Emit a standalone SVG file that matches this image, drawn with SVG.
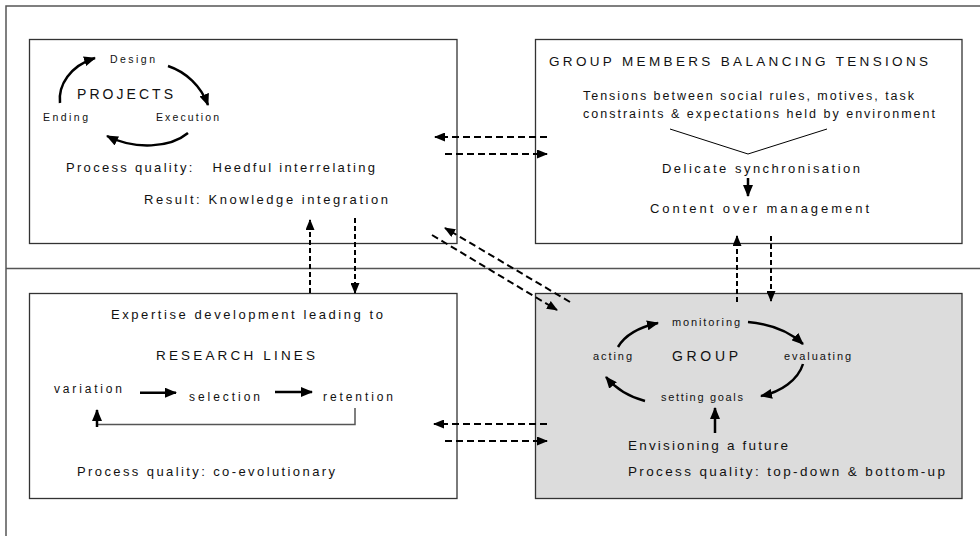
<svg xmlns="http://www.w3.org/2000/svg" width="980" height="536" viewBox="0 0 980 536">
<style>
text{font-family:"Liberation Sans",Arial,sans-serif;fill:#111;}
.frame{stroke:#555;stroke-width:1.5;fill:none;}
.box{stroke:#333;stroke-width:1.3;fill:#fff;}
.gbox{stroke:#333;stroke-width:1.3;fill:#dcdcdc;}
.cyc{stroke:#000;stroke-width:2.5;fill:none;marker-end:url(#ah);}
.dash{stroke:#000;stroke-width:2;fill:none;marker-end:url(#dh);}
.dh{stroke-dasharray:7 4;}
.dv{stroke-dasharray:5 3;}
.thin{stroke:#000;stroke-width:1;fill:none;}
.fb{stroke:#555;stroke-width:1.5;fill:none;}
</style>
<defs>
<marker id="ah" markerUnits="userSpaceOnUse" viewBox="0 0 12 10" markerWidth="12" markerHeight="10" refX="11" refY="5" orient="auto"><path d="M0,0 L12,5 L0,10 z" fill="#000"/></marker>
<marker id="dh" markerUnits="userSpaceOnUse" viewBox="0 0 11 9" markerWidth="11" markerHeight="9" refX="10" refY="4.5" orient="auto"><path d="M0,0 L11,4.5 L0,9 z" fill="#000"/></marker>
</defs>
<g id="frame">
<path class="frame" d="M980,6 L6,6 L6,536"/>
<path class="frame" d="M6,268.5 L980,268.5"/>
</g>
<g id="projects">
<rect class="box" x="29.5" y="39.5" width="427.5" height="204"/>
<text x="110" y="63" font-size="10.5" textLength="45" lengthAdjust="spacing">Design</text>
<text x="77" y="99" font-size="14" textLength="96" lengthAdjust="spacing">PROJECTS</text>
<text x="43" y="121" font-size="10.5" textLength="45" lengthAdjust="spacing">Ending</text>
<text x="156" y="121" font-size="10.5" textLength="63" lengthAdjust="spacing">Execution</text>
<text x="66" y="172" font-size="13" textLength="309" lengthAdjust="spacing" xml:space="preserve">Process quality:   Heedful interrelating</text>
<text x="144" y="204" font-size="13" textLength="244" lengthAdjust="spacing">Result: Knowledge integration</text>
<path class="cyc" d="M60,103 C58,85 70,66 95,58"/>
<path class="cyc" d="M168,66 C186,72 201,86 208,105"/>
<path class="cyc" d="M188,133 C170,148 135,150 107,136"/>
</g>
<g id="group-members">
<rect class="box" x="535.5" y="39.5" width="426.5" height="204"/>
<text x="549" y="66" font-size="13.5" textLength="379" lengthAdjust="spacing">GROUP MEMBERS BALANCING TENSIONS</text>
<text x="583" y="100" font-size="12.5" textLength="331" lengthAdjust="spacing">Tensions between social rules, motives, task</text>
<text x="583" y="118" font-size="12.5" textLength="352" lengthAdjust="spacing">constraints &amp; expectations held by environment</text>
<path class="thin" d="M670,129 L748,154 L827,129"/>
<text x="662" y="173" font-size="13" textLength="198" lengthAdjust="spacing">Delicate synchronisation</text>
<path class="cyc" d="M748,178 L748,196"/>
<text x="650" y="213" font-size="13" textLength="219" lengthAdjust="spacing">Content over management</text>
</g>
<g id="research-lines">
<rect class="box" x="29.5" y="293.5" width="427.5" height="205"/>
<text x="111" y="319" font-size="13" textLength="272" lengthAdjust="spacing">Expertise development leading to</text>
<text x="156" y="360" font-size="13.5" textLength="159" lengthAdjust="spacing">RESEARCH LINES</text>
<text x="54" y="393" font-size="12" textLength="68" lengthAdjust="spacing">variation</text>
<text x="189" y="401" font-size="12" textLength="71" lengthAdjust="spacing">selection</text>
<text x="323" y="401" font-size="12" textLength="70" lengthAdjust="spacing">retention</text>
<path class="cyc" d="M140,392.7 L176,392.7"/>
<path class="cyc" d="M275,392 L312,392"/>
<path class="fb" d="M355,408 L355,424.5 L97,424.5"/>
<path class="cyc" d="M97,427 L97,410"/>
<text x="77" y="476" font-size="13" textLength="258" lengthAdjust="spacing">Process quality: co-evolutionary</text>
</g>
<g id="group">
<rect class="gbox" x="535.5" y="293.5" width="426.5" height="205"/>
<text x="672" y="326" font-size="11" textLength="68" lengthAdjust="spacing">monitoring</text>
<text x="593" y="360" font-size="11" textLength="39" lengthAdjust="spacing">acting</text>
<text x="672" y="361" font-size="14" textLength="66" lengthAdjust="spacing">GROUP</text>
<text x="784" y="360" font-size="11" textLength="67" lengthAdjust="spacing">evaluating</text>
<text x="661" y="401" font-size="11" textLength="82" lengthAdjust="spacing">setting goals</text>
<path class="cyc" d="M618,347 C625,335 640,327 658,323"/>
<path class="cyc" d="M748,322 C770,324 790,332 803,344"/>
<path class="cyc" d="M803,364 C798,380 781,392 761,396"/>
<path class="cyc" d="M645,401 C630,397 616,389 606,377"/>
<path class="cyc" d="M715,433 L715,408"/>
<text x="628" y="450" font-size="13.5" textLength="160" lengthAdjust="spacing">Envisioning a future</text>
<text x="628" y="476" font-size="13.5" textLength="317" lengthAdjust="spacing">Process quality: top-down &amp; bottom-up</text>
</g>
<g id="connectors">
<path class="dash dh" d="M547,137 L435,137"/>
<path class="dash dh" d="M445,154 L547,154"/>
<path class="dash dv" d="M310,293 L310,220"/>
<path class="dash dv" d="M355,218 L355,293"/>
<path class="dash dv" d="M737,302 L737,236"/>
<path class="dash dv" d="M771,236 L771,301"/>
<path class="dash dh" d="M570,302 L445,228"/>
<path class="dash dh" d="M432,235 L557,310"/>
<path class="dash dh" d="M547,424 L434,424"/>
<path class="dash dh" d="M445,441 L547,441"/>
</g>
</svg>
